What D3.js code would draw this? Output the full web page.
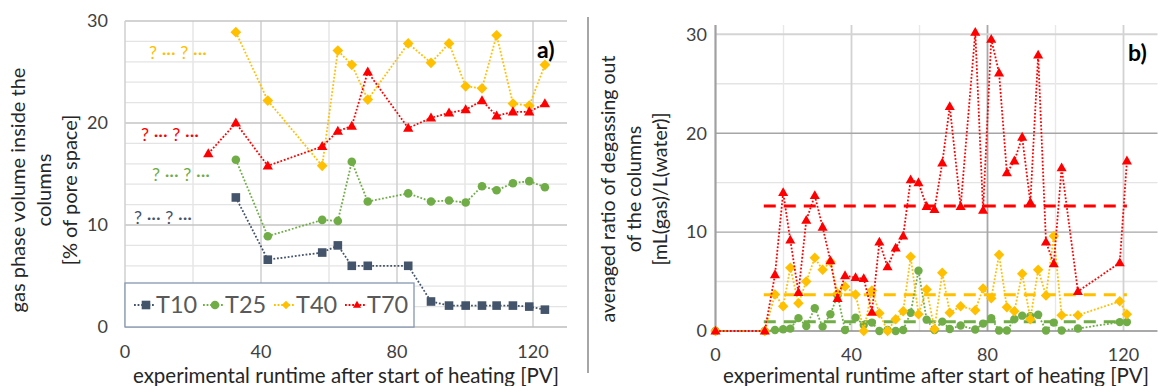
<!DOCTYPE html>
<html>
<head>
<meta charset="utf-8">
<script src="https://cdn.jsdelivr.net/npm/d3@7/dist/d3.min.js"></script>
<style>
  html, body { margin: 0; padding: 0; background: #fff; }
  svg { display: block; font-family: Lato, "Open Sans", sans-serif; }
</style>
</head>
<body>
<svg id="chart" width="1158" height="386"></svg>
<script>
// ---- panel a) gas phase volume ----
const runtimeA = [24.5, 32.6, 42, 58, 62.6, 66.7, 71.4, 83.3, 90, 95.3, 100.2, 105, 109.3, 114.1, 118.9, 123.5];
const volT10 = [null, 12.7, 6.6, 7.3, 8.0, 6.0, 6.0, 6.0, 2.5, 2.1, 2.1, 2.1, 2.1, 2.1, 2.0, 1.7];
const volT25 = [null, 16.4, 8.9, 10.5, 10.4, 16.2, 12.3, 13.1, 12.3, 12.4, 12.2, 13.8, 13.4, 14.1, 14.3, 13.7];
const volT40 = [null, 28.9, 22.2, 15.8, 27.1, 25.7, 22.3, 27.8, 25.9, 27.8, 23.6, 23.4, 28.6, 21.9, 21.7, 25.7];
const volT70 = [17.0, 20.0, 15.8, 17.7, 19.2, 19.7, 25.0, 19.5, 20.5, 21.0, 21.3, 22.2, 20.7, 21.1, 21.1, 21.9];

// ---- panel b) degassing ratio ----
const runtimeB = [0, 14.5, 17.5, 19.9, 22, 24.4, 26.7, 29.2, 31.5, 33.8, 35.9, 38.1, 41.2, 43.6, 46, 48.2,
  50.6, 53, 55.2, 57.4, 59.7, 62.1, 64.4, 66.7, 68.9, 72.1, 76.4, 78.7, 81.1, 83.4, 85.7, 87.9,
  90.2, 92.6, 94.9, 97.2, 99.5, 101.8, 106.6, 118.9, 121];
const ratioT25 = [0, 0, 0.1, 0.17, 0.24, 1.3, 0.5, 2.3, 0.44, 1.7, 3.6, 0.1, 1.35, 0.6, 0.85, 0,
  0.1, 0, 0.1, 1.85, 6.1, 1.15, 0.1, 0.95, 0.2, 0.55, 0.15, 0.75, 1.3, 0.05, 0.05, 1.2,
  1.55, 1.5, 1.65, 0.05, 0.85, 0.05, 0.25, 0.9, 0.9];
const ratioT40 = [0, 0, 3.7, 2.5, 6.4, 2.8, 5.0, 7.4, 6.2, 7.0, 3.8, 4.5, 3.7, 0, 4.1, 1.8,
  0, 1.2, 2.0, 7.5, 1.7, 4.2, 0.2, 5.9, 1.85, 2.5, 2.1, 4.3, 3.3, 7.7, 2.4, 2.0,
  5.8, 1.2, 6.2, 3.6, 9.6, 1.6, 1.6, 3.0, 1.7];
const ratioT70 = [0, 0, 5.7, 14.0, 9.2, 3.9, 11.2, 13.7, 10.5, 7.1, 3.3, 5.6, 5.4, 5.3, 1.9, 9.0,
  6.5, 8.4, 9.6, 15.3, 15.0, 12.6, 12.3, 17.0, 22.7, 12.6, 30.2, 12.2, 29.5, 26.1, 16.0, 17.2,
  19.6, 13.0, 27.9, 9.0, 6.8, 16.5, 4.0, 6.9, 17.2];
const meanLevels = [0.94, 3.66, 12.65];      // T25, T40, T70 averages
const meanSpan = [14.2, 121];

const seriesNames = ["T10", "T25", "T40", "T70"];
const seriesColors = ["#44546a", "#70ad47", "#ffc000", "#ff0000"];
const xTicks = [0, 40, 80, 120];

const svg = d3.select("#chart");

// marker shapes
function markerPath(kind, s) {
  if (kind === "T10") return `M${-s},${-s}H${s}V${s}H${-s}Z`;
  if (kind === "T25") return d3.symbol(d3.symbolCircle, Math.PI * s * s)();
  if (kind === "T40") { const r = s * 1.25; return `M0,${-r}L${r},0L0,${r}L${-r},0Z`; }
  const h = s * 2.1, w = s * 1.2;
  return `M0,${-h * 0.6}L${w},${h * 0.4}L${-w},${h * 0.4}Z`;
}

function drawSeries(g, x, y, xs, ys, name, color, mSize) {
  const pts = xs.map((v, i) => [v, ys[i]]).filter(d => d[1] != null);
  g.append("path")
    .attr("d", d3.line().x(d => x(d[0])).y(d => y(d[1]))(pts))
    .attr("fill", "none").attr("stroke", color)
    .attr("stroke-width", 1.8).attr("stroke-dasharray", "1.8 1.8");
  g.selectAll(null).data(pts).enter().append("path")
    .attr("d", markerPath(name, mSize))
    .attr("transform", d => `translate(${x(d[0])},${y(d[1])})`)
    .attr("fill", color);
}

// ================= panel a) =================
{
  const x = d3.scaleLinear().domain([0, 130]).range([125, 567]);
  const y = d3.scaleLinear().domain([0, 30]).range([327, 21]);
  const g = svg.append("g");

  // minor horizontal grid
  g.selectAll(null).data(d3.range(2, 30, 2).filter(v => v % 10 !== 0)).enter().append("line")
    .attr("x1", x(0)).attr("x2", x(130)).attr("y1", d => y(d)).attr("y2", d => y(d))
    .attr("stroke", "#e4e4e4").attr("stroke-width", 1.3);
  // vertical grid
  g.selectAll(null).data([20, 40, 60, 80, 100, 120]).enter().append("line")
    .attr("x1", d => x(d)).attr("x2", d => x(d)).attr("y1", y(30)).attr("y2", y(0))
    .attr("stroke", d => d % 40 === 0 ? "#cfcfcf" : "#e6e6e6").attr("stroke-width", 1.5);
  // major horizontal grid
  g.selectAll(null).data([0, 10, 20, 30]).enter().append("line")
    .attr("x1", x(0)).attr("x2", x(130)).attr("y1", d => y(d)).attr("y2", d => y(d))
    .attr("stroke", d => d === 0 ? "#bdbdbd" : "#c4c4c4").attr("stroke-width", 1.4);
  g.append("line").attr("x1", x(0)).attr("x2", x(0)).attr("y1", y(30)).attr("y2", y(0))
    .attr("stroke", "#cfcfcf").attr("stroke-width", 1.5);

  // tick labels
  g.selectAll(null).data([0, 10, 20, 30]).enter().append("text")
    .attr("x", 108).attr("y", d => y(d)).attr("dy", "0.35em").attr("text-anchor", "end")
    .attr("font-size", 18).attr("fill", "#404040").text(d => d);
  g.selectAll(null).data(xTicks).enter().append("text")
    .attr("x", d => x(d)).attr("y", 352).attr("dy", "0.35em").attr("text-anchor", "middle")
    .attr("font-size", 18).attr("fill", "#404040").text(d => d);

  // series
  const vals = [volT10, volT25, volT40, volT70];
  vals.forEach((v, i) => drawSeries(g, x, y, runtimeA, v, seriesNames[i], seriesColors[i], 4.3));

  // placeholder labels
  const phY = [218, 175, 53, 135], phX = [134, 152, 149, 141];
  [0, 1, 2, 3].forEach(i => {
    g.append("text").attr("x", phX[i]).attr("y", phY[i]).attr("dy", "0.35em")
      .attr("font-size", 18).attr("fill", seriesColors[i]).text("? \u00b7\u00b7\u00b7 ? \u00b7\u00b7\u00b7");
  });

  // legend
  const lg = g.append("g");
  lg.append("rect").attr("x", 125).attr("y", 283).attr("width", 289).attr("height", 44)
    .attr("fill", "#fff").attr("stroke", "#8497b0").attr("stroke-width", 1.3);
  const lgX = [146, 215, 286, 357];
  seriesNames.forEach((n, i) => {
    lg.append("line").attr("x1", lgX[i] - 12).attr("x2", lgX[i] + 8).attr("y1", 305).attr("y2", 305)
      .attr("stroke", seriesColors[i]).attr("stroke-width", 1.8).attr("stroke-dasharray", "1.8 1.8");
    lg.append("path").attr("d", markerPath(n, n === "T10" || n === "T25" ? 4.3 : 3.4))
      .attr("transform", `translate(${lgX[i]},305)`).attr("fill", seriesColors[i]);
    lg.append("text").attr("x", lgX[i] + 10).attr("y", 305).attr("dy", "0.35em")
      .attr("font-size", 23.5).attr("fill", "#595959").text(n);
  });

  // panel letter
  g.append("text").attr("x", 537).attr("y", 50).attr("dy", "0.35em")
    .attr("font-size", 23).attr("font-weight", "bold").attr("fill", "#000").text("a)");

  // axis titles
  g.append("text").attr("x", 346).attr("y", 376).attr("dy", "0.35em").attr("text-anchor", "middle")
    .attr("font-size", 20.5).attr("fill", "#262626")
    .text("experimental runtime after start of heating [PV]");
  const yl = g.append("text").attr("transform", "translate(0,190) rotate(-90)")
    .attr("text-anchor", "middle").attr("font-size", 20).attr("fill", "#262626");
  ["gas phase volume inside the", "columns", "[% of pore space]"].forEach((t, i) => {
    yl.append("tspan").attr("x", 0).attr("y", 25 + i * 26).text(t);
  });
}

// separator between panels
svg.append("line").attr("x1", 588).attr("x2", 588).attr("y1", 17).attr("y2", 373)
  .attr("stroke", "#a6a6a6").attr("stroke-width", 2);

// ================= panel b) =================
{
  const x = d3.scaleLinear().domain([0, 130]).range([715.5, 1157.5]);
  const y = d3.scaleLinear().domain([0, 30]).range([331, 34.3]);
  const top = 25;
  const g = svg.append("g");

  g.selectAll(null).data([5, 15, 25]).enter().append("line")
    .attr("x1", x(0)).attr("x2", x(130)).attr("y1", d => y(d)).attr("y2", d => y(d))
    .attr("stroke", "#e4e4e4").attr("stroke-width", 1.4);
  g.selectAll(null).data([20, 40, 60, 80, 100, 120]).enter().append("line")
    .attr("x1", d => x(d)).attr("x2", d => x(d)).attr("y1", top).attr("y2", y(0))
    .attr("stroke", d => d === 80 ? "#a8a8a8" : (d % 40 === 0 ? "#d2d2d2" : "#e8e8e8"))
    .attr("stroke-width", d => d % 40 === 0 ? 1.8 : 1.4);
  g.selectAll(null).data([10, 20, 30]).enter().append("line")
    .attr("x1", x(0)).attr("x2", x(130)).attr("y1", d => y(d)).attr("y2", d => y(d))
    .attr("stroke", d => d === 30 ? "#d4d4d4" : "#a6a6a6").attr("stroke-width", d => d === 30 ? 2 : 1.4);
  g.append("line").attr("x1", x(0)).attr("x2", x(130)).attr("y1", y(0)).attr("y2", y(0))
    .attr("stroke", "#8c8c8c").attr("stroke-width", 1.6);
  g.append("line").attr("x1", x(0)).attr("x2", x(0)).attr("y1", top).attr("y2", y(0))
    .attr("stroke", "#a0a0a0").attr("stroke-width", 2.2);

  g.selectAll(null).data([0, 10, 20, 30]).enter().append("text")
    .attr("x", 707).attr("y", d => y(d)).attr("dy", "0.35em").attr("text-anchor", "end")
    .attr("font-size", 18).attr("fill", "#404040").text(d => d);
  g.selectAll(null).data(xTicks).enter().append("text")
    .attr("x", d => x(d)).attr("y", 355).attr("dy", "0.35em").attr("text-anchor", "middle")
    .attr("font-size", 18).attr("fill", "#404040").text(d => d);

  // average levels
  meanLevels.forEach((m, i) => {
    g.append("line").attr("x1", x(meanSpan[0])).attr("x2", x(meanSpan[1]))
      .attr("y1", y(m)).attr("y2", y(m))
      .attr("stroke", seriesColors[i + 1]).attr("stroke-width", 3)
      .attr("stroke-dasharray", "12 8");
  });

  const vals = [ratioT25, ratioT40, ratioT70];
  vals.forEach((v, i) => drawSeries(g, x, y, runtimeB, v, seriesNames[i + 1], seriesColors[i + 1], 4.2));

  g.append("text").attr("x", 1128).attr("y", 53).attr("dy", "0.35em")
    .attr("font-size", 23).attr("font-weight", "bold").attr("fill", "#000").text("b)");

  g.append("text").attr("x", 936).attr("y", 376).attr("dy", "0.35em").attr("text-anchor", "middle")
    .attr("font-size", 20.5).attr("fill", "#262626")
    .text("experimental runtime after start of heating [PV]");
  const yl = g.append("text").attr("transform", "translate(0,189) rotate(-90)")
    .attr("text-anchor", "middle").attr("font-size", 19.5).attr("fill", "#262626");
  ["averaged ratio of degassing out", "of the columns", "[mL(gas)/L(water)]"].forEach((t, i) => {
    yl.append("tspan").attr("x", 0).attr("y", 615 + i * 26).text(t);
  });
}
</script>
</body>
</html>
